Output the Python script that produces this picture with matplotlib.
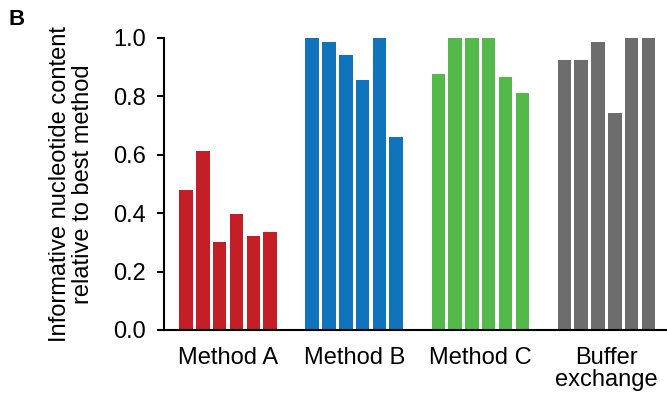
import matplotlib.pyplot as plt
import numpy as np

plt.rcParams['font.family'] = ['Liberation Sans', 'DejaVu Sans']

groups = ['Method A', 'Method B', 'Method C', 'Buffer\nexchange']
colors = ['#c41f26', '#0f74bc', '#54b94b', '#6d6d6d']

method_a = [0.479, 0.613, 0.301, 0.397, 0.322, 0.336]
method_b = [1.0, 0.986, 0.942, 0.856, 1.0, 0.661]
method_c = [0.877, 1.0, 1.0, 1.0, 0.866, 0.812]
buffer_ex = [0.925, 0.925, 0.986, 0.743, 1.0, 1.0]
values = [method_a, method_b, method_c, buffer_ex]

yticks = [0.0, 0.2, 0.4, 0.6, 0.8, 1.0]

fig = plt.figure(figsize=(6.67, 3.98), dpi=100)
ax = fig.add_axes([0.2459, 0.1709, 0.754, 0.7337])

# бары по группам
pitch = 7.5
for g, (vals, c) in enumerate(zip(values, colors)):
    x = g * pitch + np.arange(len(vals))
    ax.bar(x, vals, width=0.8, color=c)

ax.set_xlim(-1.31, 28.6)
ax.set_ylim(0, 1.0)
ax.set_xticks([g * pitch + 2.5 for g in range(len(groups))])
ax.set_xticklabels(groups, fontsize=17, linespacing=1.05)
ax.set_yticks(yticks)
ax.set_yticklabels(['%.1f' % t for t in yticks], fontsize=17)

ax.spines['top'].set_visible(False)
ax.spines['right'].set_visible(False)
ax.spines['left'].set_linewidth(1.5)
ax.spines['bottom'].set_linewidth(1.5)
ax.tick_params(axis='y', direction='out', length=5, width=1.5, pad=8)
ax.tick_params(axis='x', length=0, pad=12)

ax.set_ylabel('Informative nucleotide content\nrelative to best method', fontsize=17,
              labelpad=14, linespacing=1.05)

fig.text(0.012, 0.937, 'B', fontsize=16, fontweight='bold')

plt.savefig('out.png', dpi=100)
